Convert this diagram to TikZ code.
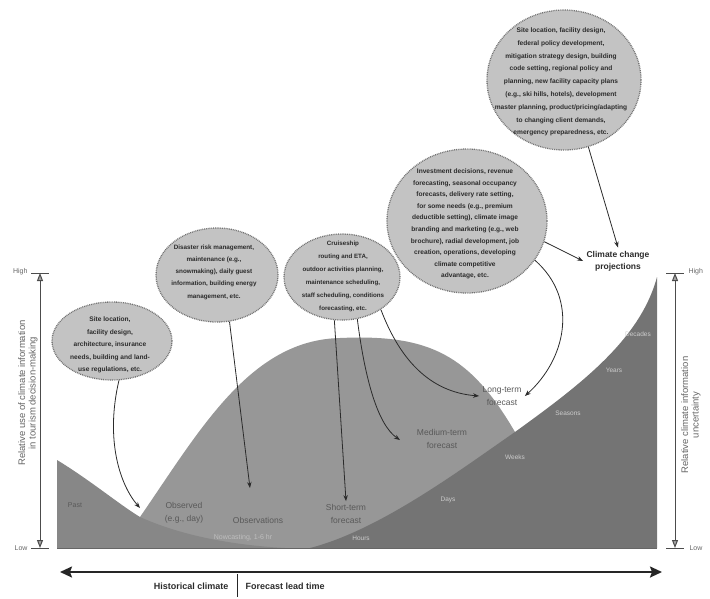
\documentclass[tikz,border=0pt]{standalone}
\usepackage{fontspec}
\setmainfont{Liberation Sans}
\usepackage{tikz}
\usetikzlibrary{arrows.meta,shapes.geometric}

\definecolor{humpgray}{HTML}{979797}
\definecolor{pastgray}{HTML}{878787}
\definecolor{futuregray}{HTML}{747474}
\definecolor{bubblegray}{HTML}{C3C3C3}
\definecolor{inkgray}{HTML}{2B2B2B}

\begin{document}
\begin{tikzpicture}[x=1pt, y=-1pt,
bubble_style/.style={ellipse, draw=black!55, fill=bubblegray, line width=1.3pt, dash pattern=on 0.9pt off 0.9pt, inner sep=0pt},
bubble_text/.style={align=center, text=inkgray, font=\bfseries\fontsize{6.6}{12}\selectfont},
chart_label/.style={align=center, text=black!65, font=\fontsize{8.5}{12.5}\selectfont},
time_label/.style={text=white!80!black, font=\fontsize{6.5}{8}\selectfont},
head_label/.style={align=center, text=inkgray, font=\bfseries\fontsize{8.5}{12}\selectfont},
axis_label/.style={align=center, rotate=90, text=black!60, font=\fontsize{9.5}{10.5}\selectfont},
level_label/.style={text=black!60, font=\fontsize{7}{8}\selectfont},
bottom_label/.style={text=inkgray, font=\bfseries\fontsize{9}{11}\selectfont},
arrow_style/.style={draw=inkgray, line width=0.8pt, -{Stealth[length=6pt,width=4.5pt]}},
axis_style/.style={draw=black!70, line width=1pt, {Triangle[length=8pt,width=6pt,fill=black!35]}-{Triangle[length=8pt,width=6pt,fill=black!35]}},
time_axis_style/.style={draw=black!85, line width=2pt, {Stealth[length=12pt,width=11pt,inset=2pt]}-{Stealth[length=12pt,width=11pt,inset=2pt]}}]

\useasboundingbox (0,0) rectangle (710,598);

% shaded areas of the chart
\fill[humpgray] (120,548) -- (140,517) .. controls (200,430) and (250,340) .. (340,338) .. controls (430,334) and (470,355) .. (515,432) -- (600,548) -- cycle;
\fill[pastgray] (57,548) -- (57,460) .. controls (90,480) and (120,505) .. (140,517) .. controls (180,535) and (230,545) .. (285,548) -- cycle;
\fill[futuregray] (310,548) .. controls (380,530) and (460,470) .. (515,432) .. controls (580,385) and (640,340) .. (657,277) -- (657,548) -- cycle;
\draw[black!60, line width=0.8pt] (57,548) -- (657,548);

% bubbles
\node[bubble_style, minimum width=120pt, minimum height=78pt] (site_bubble) at (112,341) {};
\node[bubble_text, font=\bfseries\fontsize{6.6}{12.5}\selectfont] (site_text) at (110,345) {Site location,\\facility design,\\architecture, insurance\\needs, building and land-\\use regulations, etc.};

\node[bubble_style, minimum width=122pt, minimum height=94pt] (risk_bubble) at (217,275) {};
\node[bubble_text, font=\bfseries\fontsize{6.3}{12.3}\selectfont] (risk_text) at (214,272) {Disaster risk management,\\maintenance (e.g.,\\snowmaking), daily guest\\information, building energy\\management, etc.};

\node[bubble_style, minimum width=116pt, minimum height=86pt] (cruise_bubble) at (342,277) {};
\node[bubble_text, font=\bfseries\fontsize{6.2}{13}\selectfont] (cruise_text) at (343,276) {Cruiseship\\routing and ETA,\\outdoor activities planning,\\maintenance scheduling,\\staff scheduling, conditions\\forecasting, etc.};

\node[bubble_style, minimum width=160pt, minimum height=144pt] (invest_bubble) at (467,221) {};
\node[bubble_text, font=\bfseries\fontsize{6.6}{11.6}\selectfont] (invest_text) at (465,224) {Investment decisions, revenue\\forecasting, seasonal occupancy\\forecasts, delivery rate setting,\\for some needs (e.g., premium\\deductible setting), climate image\\branding and marketing (e.g., web\\brochure), radial development, job\\creation, operations, developing\\climate competitive\\advantage, etc.};

\node[bubble_style, minimum width=154pt, minimum height=140pt] (plan_bubble) at (564,80) {};
\node[bubble_text, font=\bfseries\fontsize{6.6}{12.8}\selectfont] (plan_text) at (561,82) {Site location, facility design,\\federal policy development,\\mitigation strategy design, building\\code setting, regional policy and\\planning, new facility capacity plans\\(e.g., ski hills, hotels), development\\master planning, product/pricing/adapting\\to changing client demands,\\emergency preparedness, etc.};

% labels in the chart
\node[head_label] (ccp) at (618,261) {Climate change\\projections};
\node[chart_label] (long_fc) at (502,396) {Long-term\\forecast};
\node[chart_label] (medium_fc) at (442,439) {Medium-term\\forecast};
\node[chart_label] (short_fc) at (346,514) {Short-term\\forecast};
\node[chart_label] (observed) at (184,513) {Observed\\(e.g., day)};
\node[chart_label] (obs) at (258,520) {Observations};
\node[chart_label, text=white!75!black, font=\fontsize{7}{8}\selectfont] (nowcast) at (243,538) {Nowcasting, 1-6 hr};
\node[chart_label, font=\fontsize{7}{8}\selectfont] (past) at (75,505) {Past};

\node[time_label] (t_hours) at (361,538) {Hours};
\node[time_label] (t_days) at (448,500) {Days};
\node[time_label] (t_weeks) at (515,457) {Weeks};
\node[time_label] (t_seasons) at (568,413) {Seasons};
\node[time_label] (t_years) at (614,370) {Years};
\node[time_label] (t_decades) at (638,334) {Decades};

% connectors
\coordinate (past_tip) at (140,508);
\coordinate (obs_tip) at (250,488);
\coordinate (medium_tip) at (400,440);
\draw[arrow_style] (site_bubble.-80) .. controls (105,440) and (120,485) .. (past_tip);
\draw[arrow_style] (risk_bubble.-75) -- (obs_tip);
\draw[arrow_style] (cruise_bubble.-100) -- (short_fc.north);
\draw[arrow_style] (cruise_bubble.-70) .. controls (365,380) and (378,425) .. (medium_tip);
\draw[arrow_style] (cruise_bubble.-40) .. controls (400,360) and (430,392) .. (long_fc.west);
\draw[arrow_style] (invest_bubble.-30) .. controls (580,300) and (565,360) .. (long_fc.east);
\draw[arrow_style] (invest_bubble.-15) -- (ccp.west);
\draw[arrow_style] (plan_bubble.-70) -- (ccp.north);

% left axis
\coordinate (lhigh) at (40,273);
\coordinate (llow) at (40,548);
\draw[axis_style] (llow) -- (lhigh);
\draw[black!70, line width=1pt] (31,273) -- (49,273);
\draw[black!70, line width=1pt] (31,548) -- (49,548);
\node[level_label, anchor=east] (lhigh_lab) at (31,272) {High};
\node[level_label, anchor=east] (llow_lab) at (31,548) {Low};
\node[axis_label] (use_lab) at (28,393) {Relative use of climate information\\in tourism decision-making};

% right axis
\coordinate (rhigh) at (675,273);
\coordinate (rlow) at (675,548);
\draw[axis_style] (rlow) -- (rhigh);
\draw[black!70, line width=1pt] (666,273) -- (684,273);
\draw[black!70, line width=1pt] (666,548) -- (684,548);
\node[level_label, anchor=west] (rhigh_lab) at (685,272) {High};
\node[level_label, anchor=west] (rlow_lab) at (686,548) {Low};
\node[axis_label] (unc_lab) at (691,415) {Relative climate information\\uncertainty};

% time axis
\coordinate (tleft) at (60,572);
\coordinate (tright) at (662,572);
\draw[time_axis_style] (tleft) -- (tright);
\draw[black!85, line width=1pt] (237,574) -- (237,597);
\node[bottom_label, anchor=east] (hist_lab) at (232,586) {Historical climate};
\node[bottom_label, anchor=west] (lead_lab) at (242,586) {Forecast lead time};

\end{tikzpicture}
\end{document}
